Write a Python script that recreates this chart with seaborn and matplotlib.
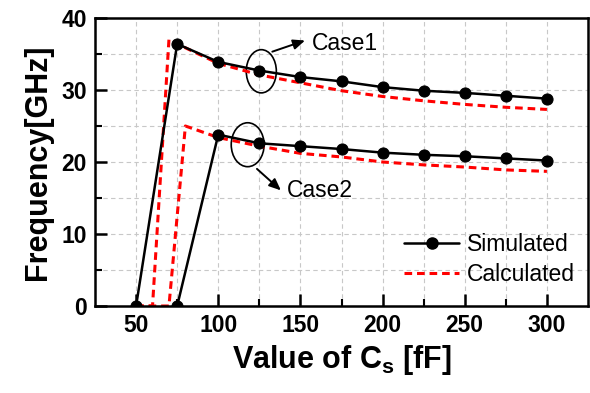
import matplotlib
matplotlib.use("Agg")
import matplotlib.pyplot as plt
import seaborn as sns
from matplotlib.patches import Ellipse
from matplotlib.lines import Line2D

# simulated points (Cs in fF, frequency in GHz)
sim_x = [50, 75, 100, 125, 150, 175, 200, 225, 250, 275, 300]
sim_case1 = [0, 36.4, 33.9, 32.7, 31.8, 31.2, 30.4, 29.9, 29.6, 29.2, 28.8]
sim_case2_x = [75, 100, 125, 150, 175, 200, 225, 250, 275, 300]
sim_case2 = [0, 23.8, 22.6, 22.2, 21.8, 21.3, 21.0, 20.8, 20.5, 20.2]

# calculated curves
calc_case1_x = [50, 60, 70, 75, 100, 125, 150, 175, 200, 225, 250, 275, 300]
calc_case1 = [0, 0, 37.0, 36.4, 33.7, 32.1, 31.0, 29.9, 29.1, 28.5, 28.0, 27.6, 27.3]
calc_case2_x = [50, 70, 80, 100, 125, 150, 175, 200, 225, 250, 275, 300]
calc_case2 = [0, 0, 25.0, 23.4, 22.2, 21.2, 20.7, 20.0, 19.6, 19.3, 18.9, 18.7]

x_ticks = [50, 100, 150, 200, 250, 300]
y_ticks = [0, 10, 20, 30, 40]

sns.set_style("ticks")
plt.rcParams["font.family"] = ["Liberation Sans", "DejaVu Sans"]
plt.rcParams["mathtext.fontset"] = "custom"
plt.rcParams["mathtext.rm"] = "Liberation Sans"
for key in ["text.color", "axes.labelcolor", "xtick.color", "ytick.color"]:
    plt.rcParams[key] = "black"

fig = plt.figure(figsize=(5.9, 3.93), dpi=100)
ax = fig.add_axes([95 / 590, 1 - 306 / 393, 493 / 590, 288 / 393])

dash = (0, (2.5, 1.6))
sim_style = dict(color="black", linewidth=1.8, marker="o", markersize=8,
                 markeredgecolor="black", estimator=None, sort=False, ax=ax)
calc_style = dict(color="red", linewidth=2.2, estimator=None, sort=False, ax=ax)

sns.lineplot(x=calc_case1_x, y=calc_case1, linestyle=dash, **calc_style)
sns.lineplot(x=calc_case2_x, y=calc_case2, linestyle=dash, **calc_style)
sns.lineplot(x=sim_x, y=sim_case1, **sim_style)
sns.lineplot(x=sim_case2_x, y=sim_case2, **sim_style)

ax.set_xlim(25, 325)
ax.set_ylim(0, 40)
ax.set_xticks(x_ticks)
ax.set_yticks(y_ticks)
ax.set_xticks([75, 125, 175, 225, 275], minor=True)
ax.set_yticks([5, 15, 25, 35], minor=True)
ax.grid(True, which="both", color="#c8c8c8", linestyle=(0, (4, 3)), linewidth=0.8)
ax.set_axisbelow(True)

for s in ax.spines.values():
    s.set_linewidth(1.8)
    s.set_color("black")
ax.tick_params(which="major", direction="in", length=8.5, width=1.8, labelsize=16.5, pad=6)
ax.tick_params(which="minor", direction="in", length=5, width=1.5)
for lbl in ax.get_xticklabels() + ax.get_yticklabels():
    lbl.set_fontweight("bold")

ax.set_xlabel(r"Value of C$\mathregular{_s}$ [fF]", fontsize=22, fontweight="bold", labelpad=4)
ax.set_ylabel("Frequency[GHz]", fontsize=22, fontweight="bold", labelpad=6)

# annotations: ellipses + arrows
ax.add_patch(Ellipse((126.2, 32.6), 18.3, 6.0, fill=False, edgecolor="black", linewidth=1.2))
ax.add_patch(Ellipse((117.9, 22.4), 20.0, 6.1, fill=False, edgecolor="black", linewidth=1.2))
arrow = dict(arrowstyle="-|>,head_length=0.7,head_width=0.3", color="black", linewidth=1.4)
ax.annotate("", xy=(154.4, 37.0), xytext=(131.3, 35.2), arrowprops=arrow)
ax.annotate("", xy=(139.4, 15.8), xytext=(122.3, 19.3), arrowprops=arrow)
ax.text(157.0, 36.4, "Case1", fontsize=16.5, va="center", ha="left")
ax.text(142.0, 16.1, "Case2", fontsize=16.5, va="center", ha="left")

handles = [
    Line2D([], [], color="black", linewidth=1.8, marker="o", markersize=8),
    Line2D([], [], color="red", linewidth=2.2, linestyle=dash),
]
ax.legend(handles, ["Simulated", "Calculated"], loc="center left",
          bbox_to_anchor=(0.604, 0.161), frameon=False, fontsize=16.5,
          borderpad=0, handlelength=2.4, handletextpad=0.35, labelspacing=0.3)

fig.savefig("out.png", dpi=100)
